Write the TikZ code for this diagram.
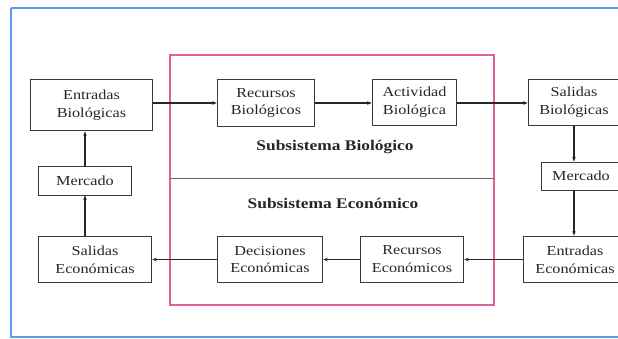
\documentclass[tikz,border=0pt]{standalone}
\usepackage{fontspec}
\setmainfont{Liberation Serif}[FakeStretch=1.18]
\usepackage{tikz}
\usetikzlibrary{arrows.meta,calc,positioning}
\usepackage{xcolor}
\definecolor{framblue}{HTML}{5B9BEF}
\definecolor{subpink}{HTML}{E0609E}
\definecolor{boxgray}{HTML}{3A3A3A}

\begin{document}
\begin{tikzpicture}[x=1bp,y=-1bp,
	box/.style={draw=boxgray, line width=0.9bp, inner sep=0pt, align=center,
		font=\fontsize{13.8}{18}\selectfont, text=black!85},
	flow/.style={-{Stealth[length=4.5bp,width=3.5bp]}, line width=1.4bp, draw=black!85},
	title/.style={font=\fontsize{14.8}{16}\selectfont\bfseries, text=black!85}]
	\useasboundingbox (0,0) rectangle (618,338);
	\draw[framblue, line width=2bp] (11,8) -- (640,8);
	\draw[framblue, line width=2bp] (11,8) -- (11,336.5) -- (640,336.5);
	% subsystems
	\draw[subpink, line width=1.5bp] (170,55) rectangle (494,305);
	\draw[black!60, line width=0.9bp] (170,178) -- (494,178);
	\node[title] (tbio) at (335,147) {Subsistema Biológico};
	\node[title] (teco) at (333,203) {Subsistema Económico};
	% boxes
	\node[box, minimum width=123, minimum height=52] (eb) at (91.5,105) {Entradas\\Biológicas};
	\node[box, minimum width=98, minimum height=48] (rb) at (266,103) {Recursos\\Biológicos};
	\node[box, minimum width=85, minimum height=47] (ab) at (414.5,102.5) {Actividad\\Biológica};
	\node[box, minimum width=92, minimum height=47] (sb) at (574,102.5) {Salidas\\Biológicas};
	\node[box, minimum width=80, minimum height=28] (mr) at (581,176) {Mercado};
	\node[box, minimum width=104, minimum height=47] (ee) at (575,259.5) {Entradas\\Económicas};
	\node[box, minimum width=104, minimum height=47] (re) at (412,259.5) {Recursos\\Económicos};
	\node[box, minimum width=106, minimum height=47] (de) at (270,259.5) {Decisiones\\Económicas};
	\node[box, minimum width=114, minimum height=47] (se) at (95,259.5) {Salidas\\Económicas};
	\node[box, minimum width=94, minimum height=29] (ml) at (85,180.5) {Mercado};
	% flows
	\draw[flow] (eb.east |- rb) -- (rb.west);
	\draw[flow] (rb.east) -- (ab.west |- rb);
	\draw[flow] (ab.east |- rb) -- (sb.west |- rb);
	\draw[flow] (sb.south) -- (sb.south |- mr.north);
	\draw[flow] (mr.south -| sb) -- (sb |- ee.north);
	\draw[flow] (ee.west) -- (re.east);
	\draw[flow] (re.west) -- (de.east);
	\draw[flow] (de.west) -- (se.east);
	\draw[flow] (se.north -| ml) -- (ml.south);
	\draw[flow] (ml.north) -- (ml |- eb.south);
\end{tikzpicture}
\end{document}
